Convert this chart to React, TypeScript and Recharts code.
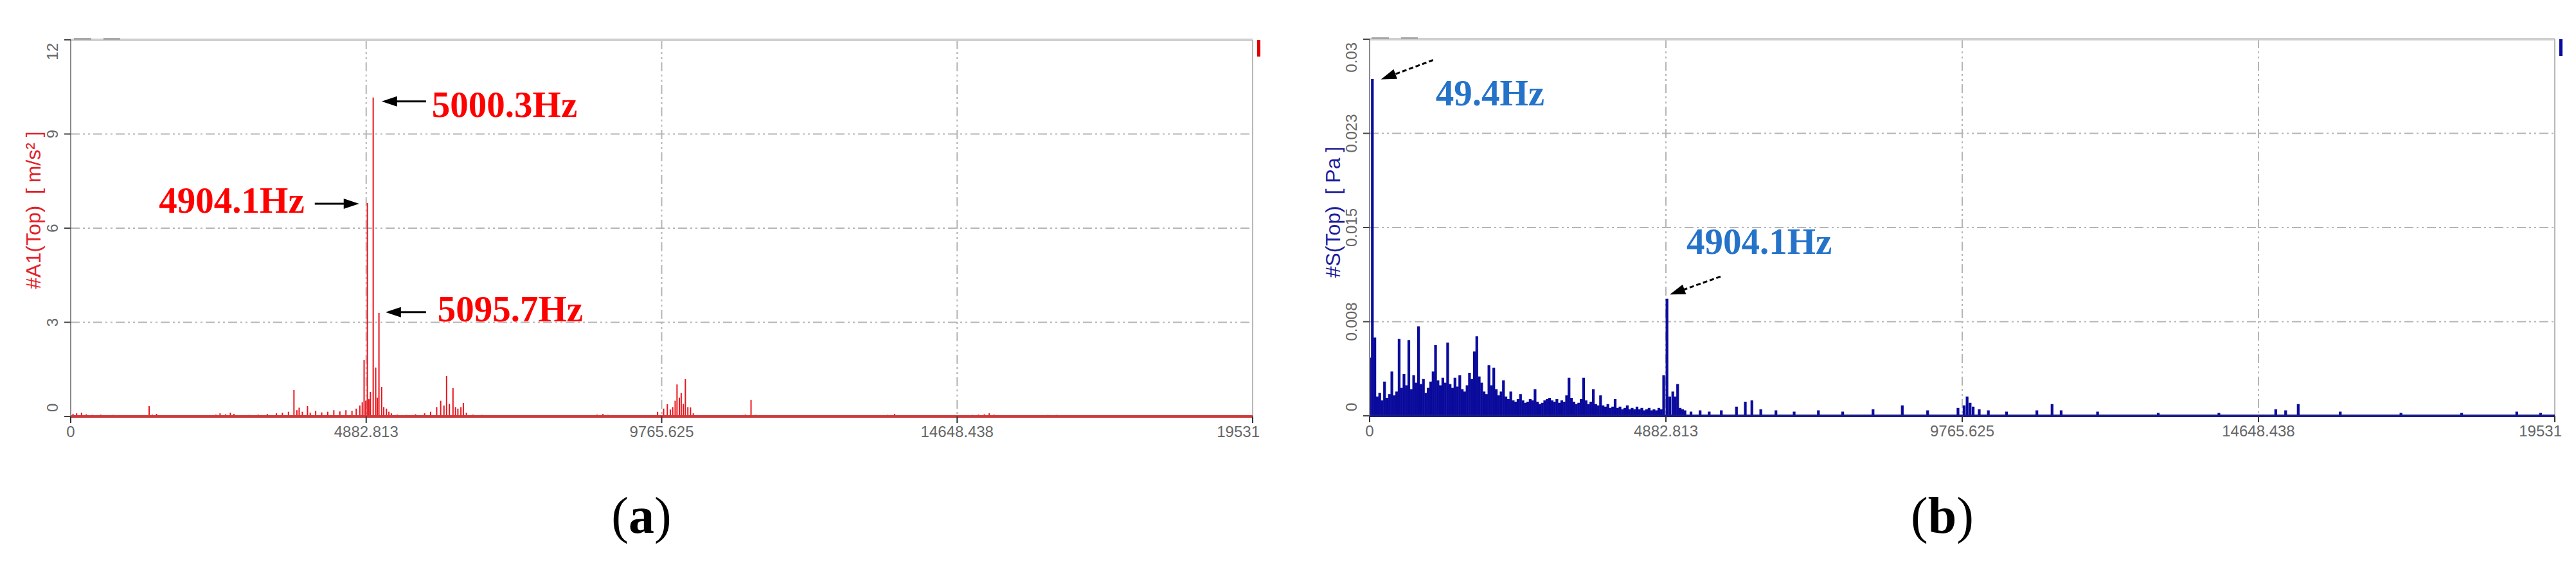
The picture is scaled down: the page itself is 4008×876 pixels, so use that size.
import React from "react";
import { BarChart, Bar, XAxis, YAxis, CartesianGrid, ReferenceLine, ReferenceDot } from "recharts";

const FONT_SANS = "'Liberation Sans', Arial, sans-serif";
const FONT_SERIF = "'Liberation Serif', 'Times New Roman', serif";

// axes
const freqTicks = [0, 4882.813, 9765.625, 14648.438, 19531.25];
const freqTickLabels = ["0", "4882.813", "9765.625", "14648.438", "19531"];
const accelTicks = [0, 3, 6, 9, 12];
const accelTickLabels = ["0", "3", "6", "9", "12"];
const pressureTicks = [0, 0.0075, 0.015, 0.0225, 0.03];
const pressureTickLabels = ["0", "0.008", "0.015", "0.023", "0.03"];

// (a) accelerometer A1 spectrum, m/s²
const accelHz = [
  40, 100, 180, 260, 360, 500, 700,
  1298, 1350, 1420,
  2400, 2470, 2560, 2640, 2700, 2950, 3100, 3250, 3400, 3500, 3600,
  3691, 3740, 3777, 3830, 3915, 3960, 4050, 4150, 4250, 4350, 4450, 4550, 4650, 4720, 4780, 4820,
  4850, 4878, 4904.1, 4930, 4955, 5000.3, 5042, 5070, 5095.7, 5140, 5175, 5220, 5260, 5300, 5400, 5550, 5700, 5850, 5950,
  6050, 6116, 6170, 6213, 6260, 6319, 6360, 6400, 6450, 6490, 6540, 6650, 6800, 7000,
  8700, 8797, 8880,
  9700, 9800, 9861, 9910, 9950, 9990, 10021, 10060, 10090, 10125, 10159, 10200, 10244, 10290,
  11050, 11150, 11244, 11320,
  13500, 13616, 13700,
  14900, 15000, 15100, 15180, 15260,
  16000, 16150, 16297,
];
const accelAmp = [
  0.08, 0.1, 0.12, 0.07, 0.05, 0.06, 0.05,
  0.33, 0.06, 0.08,
  0.06, 0.1, 0.07, 0.12, 0.08, 0.05, 0.06, 0.08, 0.1, 0.12, 0.15,
  0.84, 0.2, 0.28, 0.15, 0.33, 0.12, 0.18, 0.13, 0.15, 0.2, 0.16, 0.2, 0.18, 0.25, 0.35, 0.45,
  1.8, 0.5, 6.8, 0.55, 0.78, 10.16, 1.56, 0.6, 3.3, 0.94, 0.3, 0.25, 0.15, 0.1, 0.06, 0.05, 0.07, 0.1, 0.15,
  0.3, 0.5, 0.35, 1.29, 0.4, 0.9, 0.3, 0.25, 0.3, 0.43, 0.12, 0.06, 0.05, 0.04,
  0.06, 0.08, 0.05,
  0.15, 0.25, 0.39, 0.22, 0.3, 0.5, 1.02, 0.6, 0.75, 0.4, 1.19, 0.3, 0.29, 0.1,
  0.04, 0.06, 0.53, 0.05,
  0.05, 0.08, 0.04,
  0.05, 0.06, 0.07, 0.1, 0.06,
  0.04, 0.05, 0.05,
];

// (b) sound pressure S, Pa - dense band below 5.2 kHz
const pressureLowHz = [
  10, 49.4, 90, 130, 170, 210, 250, 290, 330, 370,
  410, 450, 490, 530, 570, 610, 650, 690, 730, 770,
  810, 850, 890, 930, 970, 1010, 1050, 1090, 1130, 1170,
  1210, 1250, 1290, 1330, 1370, 1410, 1450, 1490, 1530, 1570,
  1610, 1650, 1690, 1730, 1770, 1810, 1850, 1890, 1930, 1970,
  2010, 2050, 2090, 2130, 2170, 2210, 2250, 2290, 2330, 2370,
  2410, 2450, 2490, 2530, 2570, 2610, 2650, 2690, 2730, 2770,
  2810, 2850, 2890, 2930, 2970, 3010, 3050, 3090, 3130, 3170,
  3210, 3250, 3290, 3330, 3370, 3410, 3450, 3490, 3530, 3570,
  3610, 3650, 3690, 3730, 3770, 3810, 3850, 3890, 3930, 3970,
  4010, 4050, 4090, 4130, 4170, 4210, 4250, 4290, 4330, 4370,
  4410, 4450, 4490, 4530, 4570, 4610, 4650, 4690, 4730, 4770,
  4810, 4850, 4904.1, 4950, 5000, 5040, 5080, 5120, 5160, 5200,
];
const pressureLowPa = [
  0.0046, 0.0268, 0.0062, 0.0015, 0.0018, 0.0012, 0.0027, 0.0014, 0.0017, 0.0035,
  0.0016, 0.0019, 0.0061, 0.0022, 0.0033, 0.0024, 0.006, 0.0021, 0.0032, 0.0026,
  0.0071, 0.0025, 0.0029, 0.0018, 0.0022, 0.0027, 0.0035, 0.0056, 0.0028, 0.0024,
  0.003, 0.0026, 0.0058, 0.0025, 0.0022, 0.003, 0.0023, 0.0032, 0.0021, 0.0019,
  0.0024, 0.0034, 0.0029, 0.0051, 0.0063, 0.0031, 0.0026, 0.0019, 0.0017, 0.004,
  0.0024, 0.0038, 0.0021, 0.0016, 0.0019, 0.0028, 0.0015, 0.0013, 0.0019, 0.0012,
  0.0011, 0.0013, 0.0017, 0.0012, 0.001, 0.0011, 0.0013, 0.0012, 0.0021, 0.0011,
  0.0009, 0.001, 0.0012, 0.0013, 0.0014, 0.0012, 0.0011, 0.0013, 0.001, 0.0012,
  0.0011, 0.0016, 0.003, 0.0014, 0.0011, 0.0009, 0.001, 0.0013, 0.003, 0.0012,
  0.0009, 0.0011, 0.0021, 0.0009, 0.0008, 0.0016, 0.0008, 0.0007, 0.0009, 0.0006,
  0.0007, 0.0013, 0.0006, 0.0007, 0.0005, 0.0006, 0.0008, 0.0005, 0.0006, 0.0005,
  0.0007, 0.0005, 0.0006, 0.0004, 0.0005, 0.0006, 0.0004, 0.0005, 0.0004, 0.0006,
  0.0005, 0.0032, 0.0093, 0.0015, 0.0019, 0.0015, 0.0025, 0.0006, 0.0005, 0.0004,
];
// sparse lines above 5.2 kHz
const pressureHighHz = [
  5300, 5450, 5600, 5800, 6049, 6195, 6303, 6450, 6700, 7000,
  7400, 7800, 8300, 8782, 9200, 9700, 9800, 9850, 9900, 9950,
  10050, 10200, 10500, 11000, 11250, 11400, 12000, 13000, 14000, 14936,
  15100, 15307, 16000, 17000, 18000, 18908, 19300,
];
const pressureHighPa = [
  0.0003, 0.0004, 0.0003, 0.0004, 0.0007, 0.0011, 0.0012, 0.0005, 0.0004, 0.0003,
  0.0004, 0.0003, 0.0005, 0.0008, 0.0004, 0.0006, 0.0008, 0.0015, 0.001, 0.0007,
  0.0005, 0.0004, 0.0003, 0.0004, 0.0009, 0.0004, 0.0003, 0.0002, 0.0002, 0.0005,
  0.0004, 0.0009, 0.0003, 0.0002, 0.0002, 0.0003, 0.0002,
];

const accelData = accelHz.map((hz, i) => ({ hz, v: accelAmp[i] }));
const pressureData = [
  ...pressureLowHz.map((hz, i) => ({ hz, v: pressureLowPa[i] })),
  ...pressureHighHz.map((hz, i) => ({ hz, v: pressureHighPa[i] })),
];

const ampAt = (hzList: number[], vals: number[], hz: number) => vals[hzList.indexOf(hz)];

// callouts: peak + pixel offsets of arrow tip / tail and text
const accelCallouts = [
  { hz: 5000.3, label: "5000.3Hz", tip: [13, 6], tail: [82, 6], text: [91, 30], anchor: "start" },
  { hz: 4904.1, label: "4904.1Hz", tip: [-13, 1], tail: [-82, 1], text: [-98, 15], anchor: "end" },
  { hz: 5095.7, label: "5095.7Hz", tip: [10, -1], tail: [73, -1], text: [91, 13], anchor: "start" },
].map((c) => ({ ...c, v: ampAt(accelHz, accelAmp, c.hz), color: "#ff0000", dashed: false }));

const pressureCallouts = [
  { hz: 49.4, label: "49.4Hz", tip: [13, 0], tail: [94, -30], text: [98, 40], anchor: "start" },
  { hz: 4904.1, label: "4904.1Hz", tip: [4, -7], tail: [83, -35], text: [30, -70], anchor: "start" },
].map((c) => ({ ...c, v: ampAt(pressureLowHz, pressureLowPa, c.hz), color: "#2573c9", dashed: true }));

function Callout({ cx, cy, c }: any) {
  const tipX = cx + c.tip[0];
  const tipY = cy + c.tip[1];
  const tailX = cx + c.tail[0];
  const tailY = cy + c.tail[1];
  const len = Math.hypot(tipX - tailX, tipY - tailY) || 1;
  const ux = (tipX - tailX) / len;
  const uy = (tipY - tailY) / len;
  const headLen = 24;
  const headW = 8;
  const bx = tipX - ux * headLen;
  const by = tipY - uy * headLen;
  const pts = `${tipX},${tipY} ${bx - uy * headW},${by + ux * headW} ${bx + uy * headW},${by - ux * headW}`;
  return (
    <g>
      <line x1={tailX} y1={tailY} x2={bx + ux * 2} y2={by + uy * 2} stroke="#000" strokeWidth={3}
        strokeDasharray={c.dashed ? "7 4" : undefined} />
      <polygon points={pts} fill="#000" />
      <text x={cx + c.text[0]} y={cy + c.text[1]} textAnchor={c.anchor} fill={c.color}
        fontSize={57} fontWeight="bold" fontFamily={FONT_SERIF}>
        {c.label}
      </text>
    </g>
  );
}

function FreqTick(props: any) {
  const { x, y, payload } = props;
  const i = freqTicks.indexOf(payload.value);
  const last = i === freqTicks.length - 1;
  return (
    <text x={last ? x + 11 : x} y={y + 20} textAnchor={last ? "end" : "middle"} fill="#666"
      fontSize={24} fontFamily={FONT_SANS}>
      {freqTickLabels[i]}
    </text>
  );
}

function LevelTick(props: any) {
  const { x, y, payload, ticks, labels } = props;
  const i = ticks.indexOf(payload.value);
  const top = i === ticks.length - 1;
  const bottom = i === 0;
  const yy = top ? y + 5 : bottom ? y - 7 : y;
  return (
    <text x={x} y={yy} transform={`rotate(-90 ${x} ${yy})`} textAnchor={top ? "end" : bottom ? "start" : "middle"}
      fill="#666" fontSize={24} fontFamily={FONT_SANS}>
      {labels[i]}
    </text>
  );
}

function AxisTitle(props: any) {
  const { viewBox, text, color, dx, dy } = props;
  if (!viewBox) return null;
  const tx = viewBox.x + dx;
  const ty = viewBox.y + viewBox.height / 2 + dy;
  return (
    <text x={tx} y={ty} transform={`rotate(-90 ${tx} ${ty})`} textAnchor="middle" fill={color}
      fontSize={32} fontFamily={FONT_SANS} style={{ whiteSpace: "pre" }}>
      {text}
    </text>
  );
}

function SpectrumPanel(p: any) {
  return (
    <div style={{ position: "absolute", left: p.left, top: 0 }}>
      <BarChart width={p.width} height={720} data={p.data} margin={p.margin} barSize={p.barSize}>
        <CartesianGrid stroke="#b5b5b5" strokeWidth={2} strokeDasharray="14 5 3 5 3 5" />
        <XAxis dataKey="hz" type="number" domain={[0, 19531.25]} ticks={freqTicks} interval={0}
          allowDataOverflow height={50} tickSize={10}
          tickLine={{ stroke: "#333", strokeWidth: 2 }}
          axisLine={{ stroke: p.baseColor, strokeWidth: 4 }}
          tick={(t: any) => <FreqTick {...t} />} />
        <YAxis type="number" domain={p.yDomain} ticks={p.yTicks} interval={0} allowDataOverflow
          width={70} tickSize={10} tickMargin={10}
          tickLine={{ stroke: "#444", strokeWidth: 2 }}
          axisLine={{ stroke: "#8a8a8a", strokeWidth: 2 }}
          tick={(t: any) => <LevelTick {...t} ticks={p.yTicks} labels={p.yLabels} />}
          label={<AxisTitle text={p.title} color={p.titleColor} dx={p.titleDx} dy={p.titleDy} />} />
        <ReferenceLine y={p.yDomain[1]} stroke="#cfcfcf" strokeWidth={4} />
        <ReferenceLine x={19531.25} stroke="#b8b8b8" strokeWidth={2} />
        <Bar dataKey="v" fill={p.color} stroke={p.barStroke ? p.color : undefined} strokeWidth={p.barStroke}
          isAnimationActive={false} />
        {p.callouts.map((c: any) => (
          <ReferenceDot key={c.label} x={c.hz} y={c.v} r={0}
            shape={(d: any) => <Callout cx={d.cx} cy={d.cy} c={c} />} />
        ))}
      </BarChart>
      <div style={{ position: "absolute", left: p.markerX, top: p.margin.top, width: 5, height: 26, background: p.markerColor }} />
      <div style={{ position: "absolute", left: p.dashX, top: p.margin.top - 3, width: 27, height: 3, background: "#a8a8a8" }} />
      <div style={{ position: "absolute", left: p.dashX + 46, top: p.margin.top - 3, width: 26, height: 3, background: "#a8a8a8" }} />
    </div>
  );
}

function Caption({ x, letter }: { x: number; letter: string }) {
  return (
    <div style={{ position: "absolute", left: x - 100, width: 200, top: 756, fontSize: 80, lineHeight: "92px",
      textAlign: "center", fontFamily: FONT_SERIF, color: "#000" }}>
      (<b>{letter}</b>)
    </div>
  );
}

export default function App() {
  return (
    <div style={{ position: "absolute", left: 0, top: 0, width: 4008, height: 876, background: "#fff", overflow: "hidden" }}>
      <SpectrumPanel left={0} width={2000} data={accelData} barSize={2} barStroke={0}
        margin={{ top: 62, right: 51, bottom: 22, left: 40 }}
        yDomain={[0, 12]} yTicks={accelTicks} yLabels={accelTickLabels}
        title={"#A1(Top)  [ m/s² ]"} titleColor="#e3222a" titleDx={23} titleDy={-28}
        color="#e8141c" baseColor="#cc3b3b" callouts={accelCallouts}
        markerX={1956} markerColor="#e00000" dashX={115} />
      <SpectrumPanel left={2010} width={1998} data={pressureData} barSize={3} barStroke={1.2}
        margin={{ top: 61, right: 33, bottom: 23, left: 51 }}
        yDomain={[0, 0.03]} yTicks={pressureTicks} yLabels={pressureTickLabels}
        title={"#S(Top)  [ Pa ]"} titleColor="#1d1d9c" titleDx={24} titleDy={-24}
        color="#0a0a9c" baseColor="#1b1b8a" callouts={pressureCallouts}
        markerX={1972} markerColor="#0a0aa0" dashX={124} />
      <Caption x={998} letter="a" />
      <Caption x={3022} letter="b" />
    </div>
  );
}
